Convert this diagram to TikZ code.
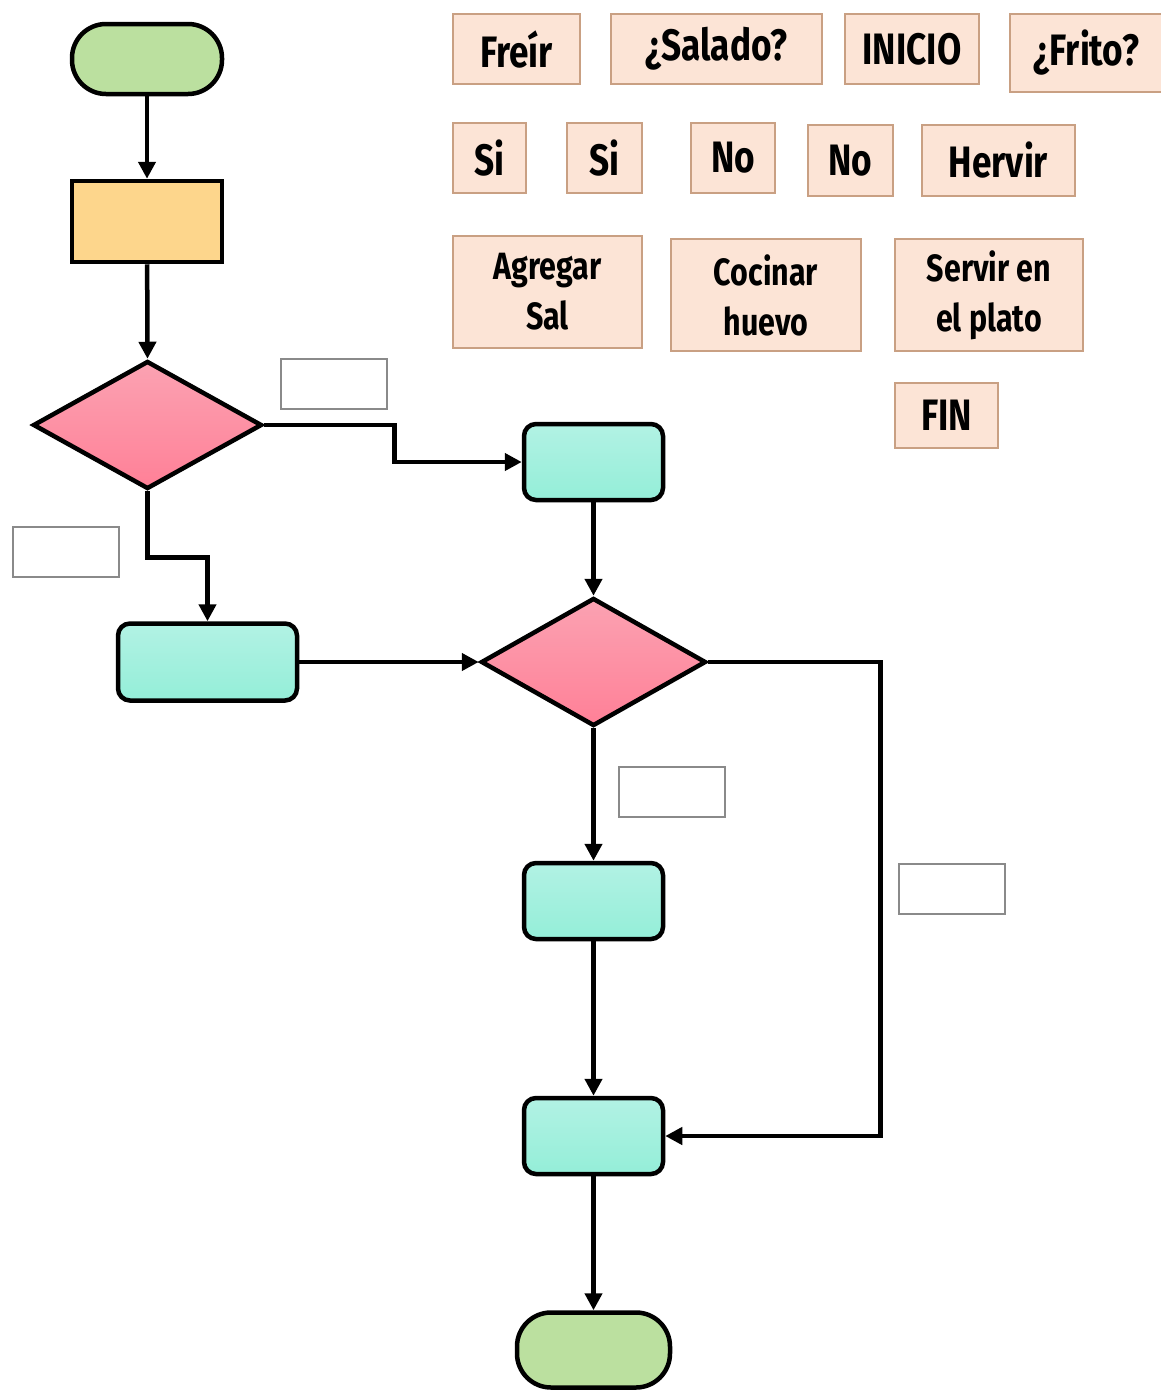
\documentclass[tikz,border=0pt]{standalone}
\usepackage{fontspec}
\newfontfamily\hand{Fira Sans}[FakeStretch=0.8]
\usetikzlibrary{shapes.geometric,arrows.meta}
\definecolor{gfill}{HTML}{BBE09F}
\definecolor{ofill}{HTML}{FDD68C}
\definecolor{tealtop}{HTML}{B2F2E4}
\definecolor{tealbot}{HTML}{94EED8}
\definecolor{pinktop}{HTML}{FBA2B2}
\definecolor{pinkbot}{HTML}{FF8097}
\definecolor{peach}{HTML}{FCE4D6}
\definecolor{peachline}{HTML}{C9A083}
\definecolor{labline}{HTML}{8A8A8A}
\tikzset{
  x=1pt, y=-1pt,
  term/.style={draw=black, line width=4.5pt, fill=gfill, rounded corners=34pt, inner sep=0pt},
  procbox/.style={draw=black, line width=4.5pt, fill=ofill, inner sep=0pt},
  tealbox/.style={draw=black, line width=4.5pt, top color=tealtop, bottom color=tealbot, rounded corners=12pt, inner sep=0pt, minimum width=139pt, minimum height=76pt},
  decis/.style={diamond, draw=black, line width=4.5pt, top color=pinktop, bottom color=pinkbot, inner sep=0pt},
  labbox/.style={draw=labline, line width=2pt, fill=white, minimum width=106pt, minimum height=50pt, inner sep=0pt},
  word/.style={draw=peachline, line width=1.5pt, fill=peach, inner sep=0pt, align=center, font=\hand\bfseries\fontsize{44}{50}\selectfont},
  wordsm/.style={word, font=\hand\bfseries\fontsize{38}{50}\selectfont},
  conn/.style={draw=black, line width=4.5pt, -{Triangle[length=17pt,width=17pt]}},
}
\begin{document}
\begin{tikzpicture}
\useasboundingbox[fill=white] (0,0) rectangle (1160,1390);
% flowchart shapes
\node[term, minimum width=150pt, minimum height=70pt] (start) at (147,59) {};
\node[procbox, minimum width=150pt, minimum height=81pt] (proc) at (147,221.5) {};
\node[decis, minimum width=229pt, minimum height=128pt] (d1) at (147.5,425) {};
\node[tealbox] (bR) at (593.5,462) {};
\node[tealbox, minimum width=179pt, minimum height=77pt] (bL) at (207.5,662) {};
\node[decis, minimum width=225pt, minimum height=128pt] (d2) at (593.5,662) {};
\node[tealbox] (b3) at (593.5,901) {};
\node[tealbox] (b4) at (593.5,1136) {};
\node[term, minimum width=153pt, minimum height=75pt] (fin) at (593.5,1350) {};
% empty label boxes
\node[labbox] (lab1) at (334,384) {};
\node[labbox] (lab2) at (65.5,552) {};
\node[labbox] (lab3) at (672,791.5) {};
\node[labbox] (lab4) at (952,888.5) {};
% connectors
\draw[conn] (start) -- (proc);
\draw[conn] (proc) -- (d1.north);
\draw[conn] (d1.east) -- ++(130,0) |- (bR.west);
\draw[conn] (d1.south) -- ++(0,66) -| (bL.north);
\draw[conn] (bL.east) -- (d2.west);
\draw[conn] (bR.south) -- (d2.north);
\draw[conn] (d2.south) -- (b3.north);
\draw[conn] (b3.south) -- (b4.north);
\draw[conn] (d2.east) -- ++(172,0) |- (b4.east);
\draw[conn] (b4.south) -- (fin.north);
% word cards
\node[word, minimum width=127pt, minimum height=70pt] (w1) at (516.5,49) {Freír};
\node[word, minimum width=211pt, minimum height=70pt] (w2) at (716.5,49) {¿Salado?};
\node[word, minimum width=134pt, minimum height=70pt] (w3) at (912,49) {INICIO};
\node[word, minimum width=152pt, minimum height=78pt] (w4) at (1086,53) {¿Frito?};
\node[word, minimum width=73pt, minimum height=70pt] (w5) at (489.5,158) {Si};
\node[word, minimum width=75pt, minimum height=70pt] (w6) at (604.5,158) {Si};
\node[word, minimum width=84pt, minimum height=70pt] (w7) at (733,158) {No};
\node[word, minimum width=85pt, minimum height=71pt] (w8) at (850.5,160.5) {No};
\node[word, minimum width=153pt, minimum height=71pt] (w9) at (998.5,160.5) {Hervir};
\node[wordsm, minimum width=189pt, minimum height=112pt] (w10) at (547.5,292) {Agregar\\Sal};
\node[wordsm, minimum width=190pt, minimum height=112pt] (w11) at (766,295) {Cocinar\\huevo};
\node[wordsm, minimum width=188pt, minimum height=112pt] (w12) at (989,295) {Servir en\\el plato};
\node[word, minimum width=103pt, minimum height=65pt] (w13) at (946.5,415.5) {FIN};
\end{tikzpicture}
\end{document}
